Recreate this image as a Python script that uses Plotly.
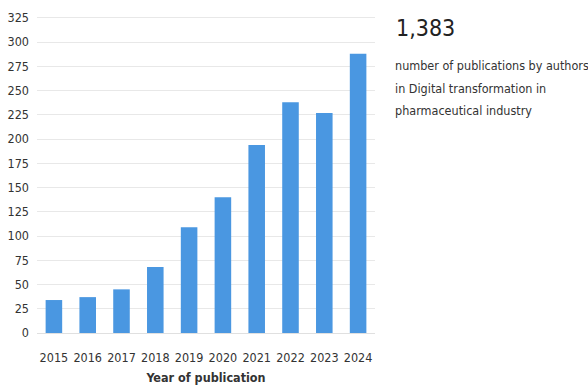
import plotly.graph_objects as go

years = ["2015", "2016", "2017", "2018", "2019", "2020", "2021", "2022", "2023", "2024"]
publications = [34, 37, 45, 68, 109, 140, 194, 238, 227, 288]
y_ticks = [0, 25, 50, 75, 100, 125, 150, 175, 200, 225, 250, 275, 300, 325]
total_text = "1,383"
desc_lines = ["number of publications by authors", "in Digital transformation in", "pharmaceutical industry"]

FONT = "DejaVu Sans Condensed, Lato, sans-serif"

fig = go.Figure(go.Bar(
    x=years, y=publications,
    marker=dict(color="#4A97E1", line=dict(width=0)),
    width=0.49,
    hoverinfo="x+y",
))

fig.update_layout(
    width=588, height=385,
    margin=dict(l=37, r=213, t=13, b=52),
    paper_bgcolor="white", plot_bgcolor="white",
    font=dict(family=FONT, size=12.5, color="#333333"),
    showlegend=False,
    xaxis=dict(
        type="category", showgrid=False, showline=False, ticks="", tickangle=0,
        ticklabelstandoff=15, automargin=False,
        tickfont=dict(family=FONT, size=12.5, color="#333333"),
        title=dict(text="<b>Year of publication</b>", standoff=9,
                   font=dict(family=FONT, size=12.5, color="#333333")),
    ),
    yaxis=dict(
        range=[0, 330], tickvals=y_ticks, showgrid=True, gridcolor="#E8E8E8",
        gridwidth=1, zeroline=True, zerolinecolor="#E0E0E0", zerolinewidth=1,
        showline=False, ticks="", ticklabelstandoff=7, automargin=False,
        tickfont=dict(family=FONT, size=12.5, color="#333333"),
    ),
)

fig.add_annotation(
    xref="paper", yref="paper", x=1, y=1, xshift=19, yshift=0,
    xanchor="left", yanchor="top", showarrow=False,
    text=total_text, font=dict(family=FONT, size=23, color="#222222"),
)
for i, line in enumerate(desc_lines):
    fig.add_annotation(
        xref="paper", yref="paper", x=1, y=1, xshift=18, yshift=-43 - 22.5 * i,
        xanchor="left", yanchor="top", showarrow=False, align="left",
        text=line, font=dict(family=FONT, size=12.5, color="#333333"),
    )

fig.write_html("out.html")
